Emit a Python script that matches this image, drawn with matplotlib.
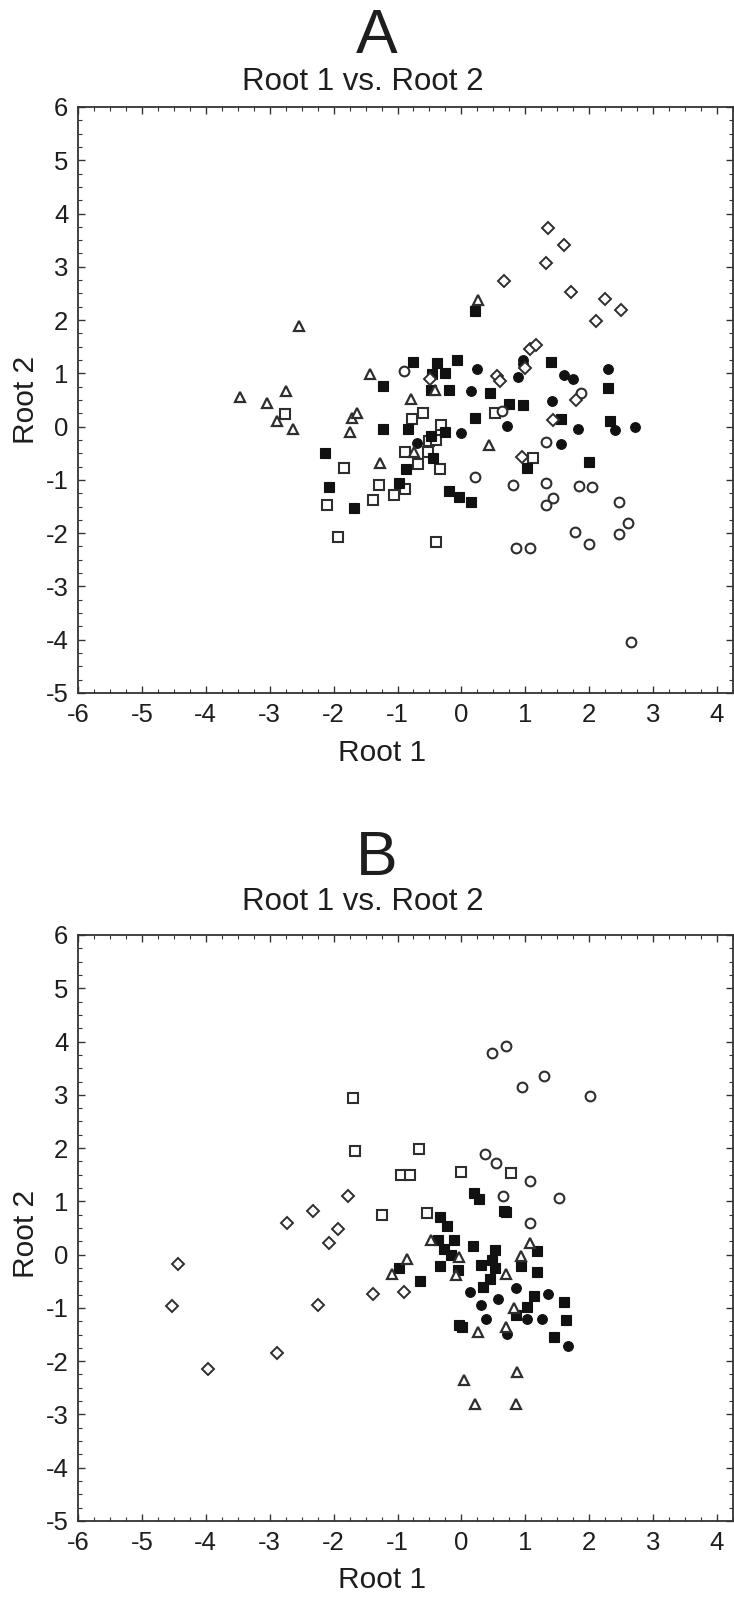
import matplotlib
matplotlib.use("Agg")
import matplotlib.pyplot as plt
from matplotlib.ticker import MultipleLocator

plt.rcParams['font.family'] = ['Liberation Sans', 'DejaVu Sans']
plt.rcParams['axes.unicode_minus'] = False

# ---------------- Panel A data ----------------
A_open_sq_x = [-2.76, -0.77, -0.60, -0.32, 0.53, -0.50, -0.40, -0.88, -0.52, -0.68, -0.34, -1.84, -1.29, -1.05, -0.88, -1.39, -2.11, -1.93, -0.39, 1.12]
A_open_sq_y = [0.24, 0.15, 0.25, 0.04, 0.26, -0.27, -0.25, -0.47, -0.47, -0.70, -0.80, -0.78, -1.10, -1.28, -1.17, -1.38, -1.48, -2.07, -2.17, -0.58]

A_fill_sq_x = [0.22, -0.76, -0.38, -0.07, -0.46, -0.25, 1.40, -1.22, -0.47, -0.20, 0.44, 2.29, 0.74, 0.96, 0.21, 1.56, 2.33, -1.22, -0.84, -0.48, -0.25, -2.14, -0.44, -0.86, 1.03, 2.00, -0.97, -2.07, -0.19, -0.03, 0.15, -1.68]
A_fill_sq_y = [2.17, 1.22, 1.20, 1.26, 0.98, 1.00, 1.22, 0.76, 0.68, 0.68, 0.64, 0.72, 0.42, 0.41, 0.16, 0.15, 0.10, -0.04, -0.05, -0.18, -0.10, -0.50, -0.58, -0.80, -0.77, -0.66, -1.05, -1.14, -1.20, -1.33, -1.41, -1.53]

A_fill_ci_x = [0.96, 0.97, 0.25, 0.89, 1.60, 1.74, 2.29, 0.15, 1.41, 0.72, -0.01, 1.83, 2.40, 2.71, -0.70, 1.56]
A_fill_ci_y = [1.25, 1.17, 1.09, 0.93, 0.96, 0.90, 1.09, 0.67, 0.49, 0.02, -0.12, -0.05, -0.07, 0.00, -0.30, -0.33]

A_open_ci_x = [-0.90, 0.63, 1.87, 1.32, 0.22, 0.81, 1.32, 1.84, 2.04, 1.43, 1.32, 2.46, 2.60, 1.78, 2.46, 1.99, 0.86, 1.07, 2.66]
A_open_ci_y = [1.05, 0.29, 0.63, -0.28, -0.95, -1.10, -1.05, -1.12, -1.13, -1.34, -1.47, -1.42, -1.81, -1.97, -2.01, -2.20, -2.28, -2.28, -4.05]

A_dia_x = [1.35, 1.61, 1.32, 0.67, 1.72, 2.25, 2.49, 2.10, 1.08, 1.16, 0.99, 0.55, 0.61, -0.49, 1.79, 1.43, 0.95]
A_dia_y = [3.72, 3.41, 3.08, 2.73, 2.52, 2.40, 2.19, 1.98, 1.45, 1.53, 1.10, 0.95, 0.86, 0.90, 0.50, 0.12, -0.57]

A_tri_x = [0.26, -2.54, -1.43, -3.46, -3.04, -2.74, -0.79, -0.41, -2.89, -2.63, -1.75, -1.71, -1.63, -1.28, -0.74, 0.43]
A_tri_y = [2.37, 1.88, 0.98, 0.56, 0.45, 0.66, 0.52, 0.68, 0.11, -0.05, -0.10, 0.17, 0.25, -0.68, -0.48, -0.35]

# ---------------- Panel B data ----------------
B_open_sq_x = [-1.69, -1.66, -0.67, -0.95, -0.81, 0.00, 0.77, -1.24, -0.54]
B_open_sq_y = [2.94, 1.95, 1.98, 1.50, 1.50, 1.56, 1.54, 0.75, 0.79]

B_fill_sq_x = [0.20, 0.28, 0.66, 0.70, -0.34, -0.22, -0.36, -0.12, -0.28, -0.17, 0.18, 0.52, 0.48, 0.52, 0.31, -0.33, -0.06, 0.44, 0.34, -0.65, 0.94, 1.19, 1.18, 1.14, 1.60, 1.03, 0.85, 1.64, -0.04, 0.01, -0.97, 1.45]
B_fill_sq_y = [1.15, 1.05, 0.82, 0.80, 0.71, 0.53, 0.27, 0.27, 0.11, 0.00, 0.17, 0.09, -0.11, -0.26, -0.20, -0.22, -0.28, -0.45, -0.61, -0.50, -0.22, 0.07, -0.33, -0.78, -0.89, -0.99, -1.14, -1.22, -1.32, -1.36, -0.26, -1.55]

B_fill_ci_x = [0.13, 0.31, 0.58, 0.86, 1.35, 0.38, 1.02, 1.26, 0.72, 1.67]
B_fill_ci_y = [-0.70, -0.95, -0.83, -0.62, -0.73, -1.20, -1.20, -1.20, -1.49, -1.72]

B_open_ci_x = [0.48, 0.69, 1.30, 0.95, 2.02, 0.37, 0.54, 1.07, 0.65, 1.53, 1.07]
B_open_ci_y = [3.79, 3.91, 3.36, 3.15, 2.98, 1.88, 1.72, 1.39, 1.11, 1.07, 0.60]

B_dia_x = [-4.43, -4.53, -3.96, -2.89, -2.73, -2.33, -1.93, -2.07, -1.78, -2.25, -1.39, -0.90]
B_dia_y = [-0.17, -0.97, -2.14, -1.84, 0.59, 0.81, 0.48, 0.22, 1.11, -0.94, -0.74, -0.71]

B_tri_x = [-0.47, -0.04, -0.85, -1.09, -0.09, 0.69, 0.94, 1.08, 0.82, 0.69, 0.26, 0.04, 0.87, 0.21, 0.85]
B_tri_y = [0.28, -0.05, -0.09, -0.37, -0.39, -0.37, -0.02, 0.22, -1.01, -1.36, -1.46, -2.36, -2.21, -2.81, -2.81]

x_ticks = [-6, -5, -4, -3, -2, -1, 0, 1, 2, 3, 4]
y_ticks = [-5, -4, -3, -2, -1, 0, 1, 2, 3, 4, 5, 6]

EDGE = '#2e2e2e'
FILL = '#111111'

W, H = 734, 1597
fig = plt.figure(figsize=(W / 100, H / 100), dpi=100)

left = 78 / W
width = 655 / W
height = 586 / H
axA = fig.add_axes([left, 1 - 693 / H, width, height])
axB = fig.add_axes([left, 1 - 1521 / H, width, height])


def draw(ax, d):
    ax.plot(d['osx'], d['osy'], ls='none', marker='s', ms=6.8, mfc='white', mec=EDGE, mew=1.5)
    ax.plot(d['fsx'], d['fsy'], ls='none', marker='s', ms=7.0, mfc=FILL, mec=FILL, mew=0.8)
    ax.plot(d['ocx'], d['ocy'], ls='none', marker='o', ms=7.0, mfc='white', mec=EDGE, mew=1.5)
    ax.plot(d['fcx'], d['fcy'], ls='none', marker='o', ms=7.0, mfc=FILL, mec=FILL, mew=0.8)
    ax.plot(d['dx'], d['dy'], ls='none', marker='D', ms=5.8, mfc='white', mec=EDGE, mew=1.4)
    ax.plot(d['tx'], d['ty'], ls='none', marker='^', ms=7.6, mfc='white', mec=EDGE, mew=1.6)

    ax.set_xlim(-6, 4.25)
    ax.set_ylim(-5, 6)
    ax.set_xticks(x_ticks)
    ax.set_yticks(y_ticks)
    ax.xaxis.set_minor_locator(MultipleLocator(0.25))
    ax.yaxis.set_minor_locator(MultipleLocator(0.25))
    ax.tick_params(which='both', direction='in', top=True, right=True, colors='#333333',
                   labelcolor='#1e1e1e')
    ax.tick_params(which='major', length=5, width=1.0, labelsize=18.5, pad=7)
    ax.tick_params(which='minor', length=3, width=0.8)
    for s in ax.spines.values():
        s.set_linewidth(1.3)
        s.set_color('#333333')


draw(axA, dict(osx=A_open_sq_x, osy=A_open_sq_y, fsx=A_fill_sq_x, fsy=A_fill_sq_y,
               ocx=A_open_ci_x, ocy=A_open_ci_y, fcx=A_fill_ci_x, fcy=A_fill_ci_y,
               dx=A_dia_x, dy=A_dia_y, tx=A_tri_x, ty=A_tri_y))
draw(axB, dict(osx=B_open_sq_x, osy=B_open_sq_y, fsx=B_fill_sq_x, fsy=B_fill_sq_y,
               ocx=B_open_ci_x, ocy=B_open_ci_y, fcx=B_fill_ci_x, fcy=B_fill_ci_y,
               dx=B_dia_x, dy=B_dia_y, tx=B_tri_x, ty=B_tri_y))

TXT = '#1e1e1e'
# Panel letters and subtitles
fig.text(377 / W, 1 - 53 / H, 'A', fontsize=45, ha='center', va='baseline', color=TXT)
fig.text(377 / W, 1 - 875 / H, 'B', fontsize=45, ha='center', va='baseline', color=TXT)
fig.text(363 / W, 1 - 90 / H, 'Root 1 vs. Root 2', fontsize=22.5, ha='center', va='baseline', color=TXT)
fig.text(363 / W, 1 - 910 / H, 'Root 1 vs. Root 2', fontsize=22.5, ha='center', va='baseline', color=TXT)

# Axis labels
fig.text(382 / W, 1 - 753 / H, 'Root 1', fontsize=21.5, ha='center', va='center', color=TXT)
fig.text(382 / W, 1 - 1580 / H, 'Root 1', fontsize=21.5, ha='center', va='center', color=TXT)
fig.text(26 / W, 1 - 400 / H, 'Root 2', fontsize=21.5, ha='center', va='center', rotation=90, color=TXT)
fig.text(26 / W, 1 - 1234 / H, 'Root 2', fontsize=21.5, ha='center', va='center', rotation=90, color=TXT)

fig.savefig('out.png', dpi=100)
